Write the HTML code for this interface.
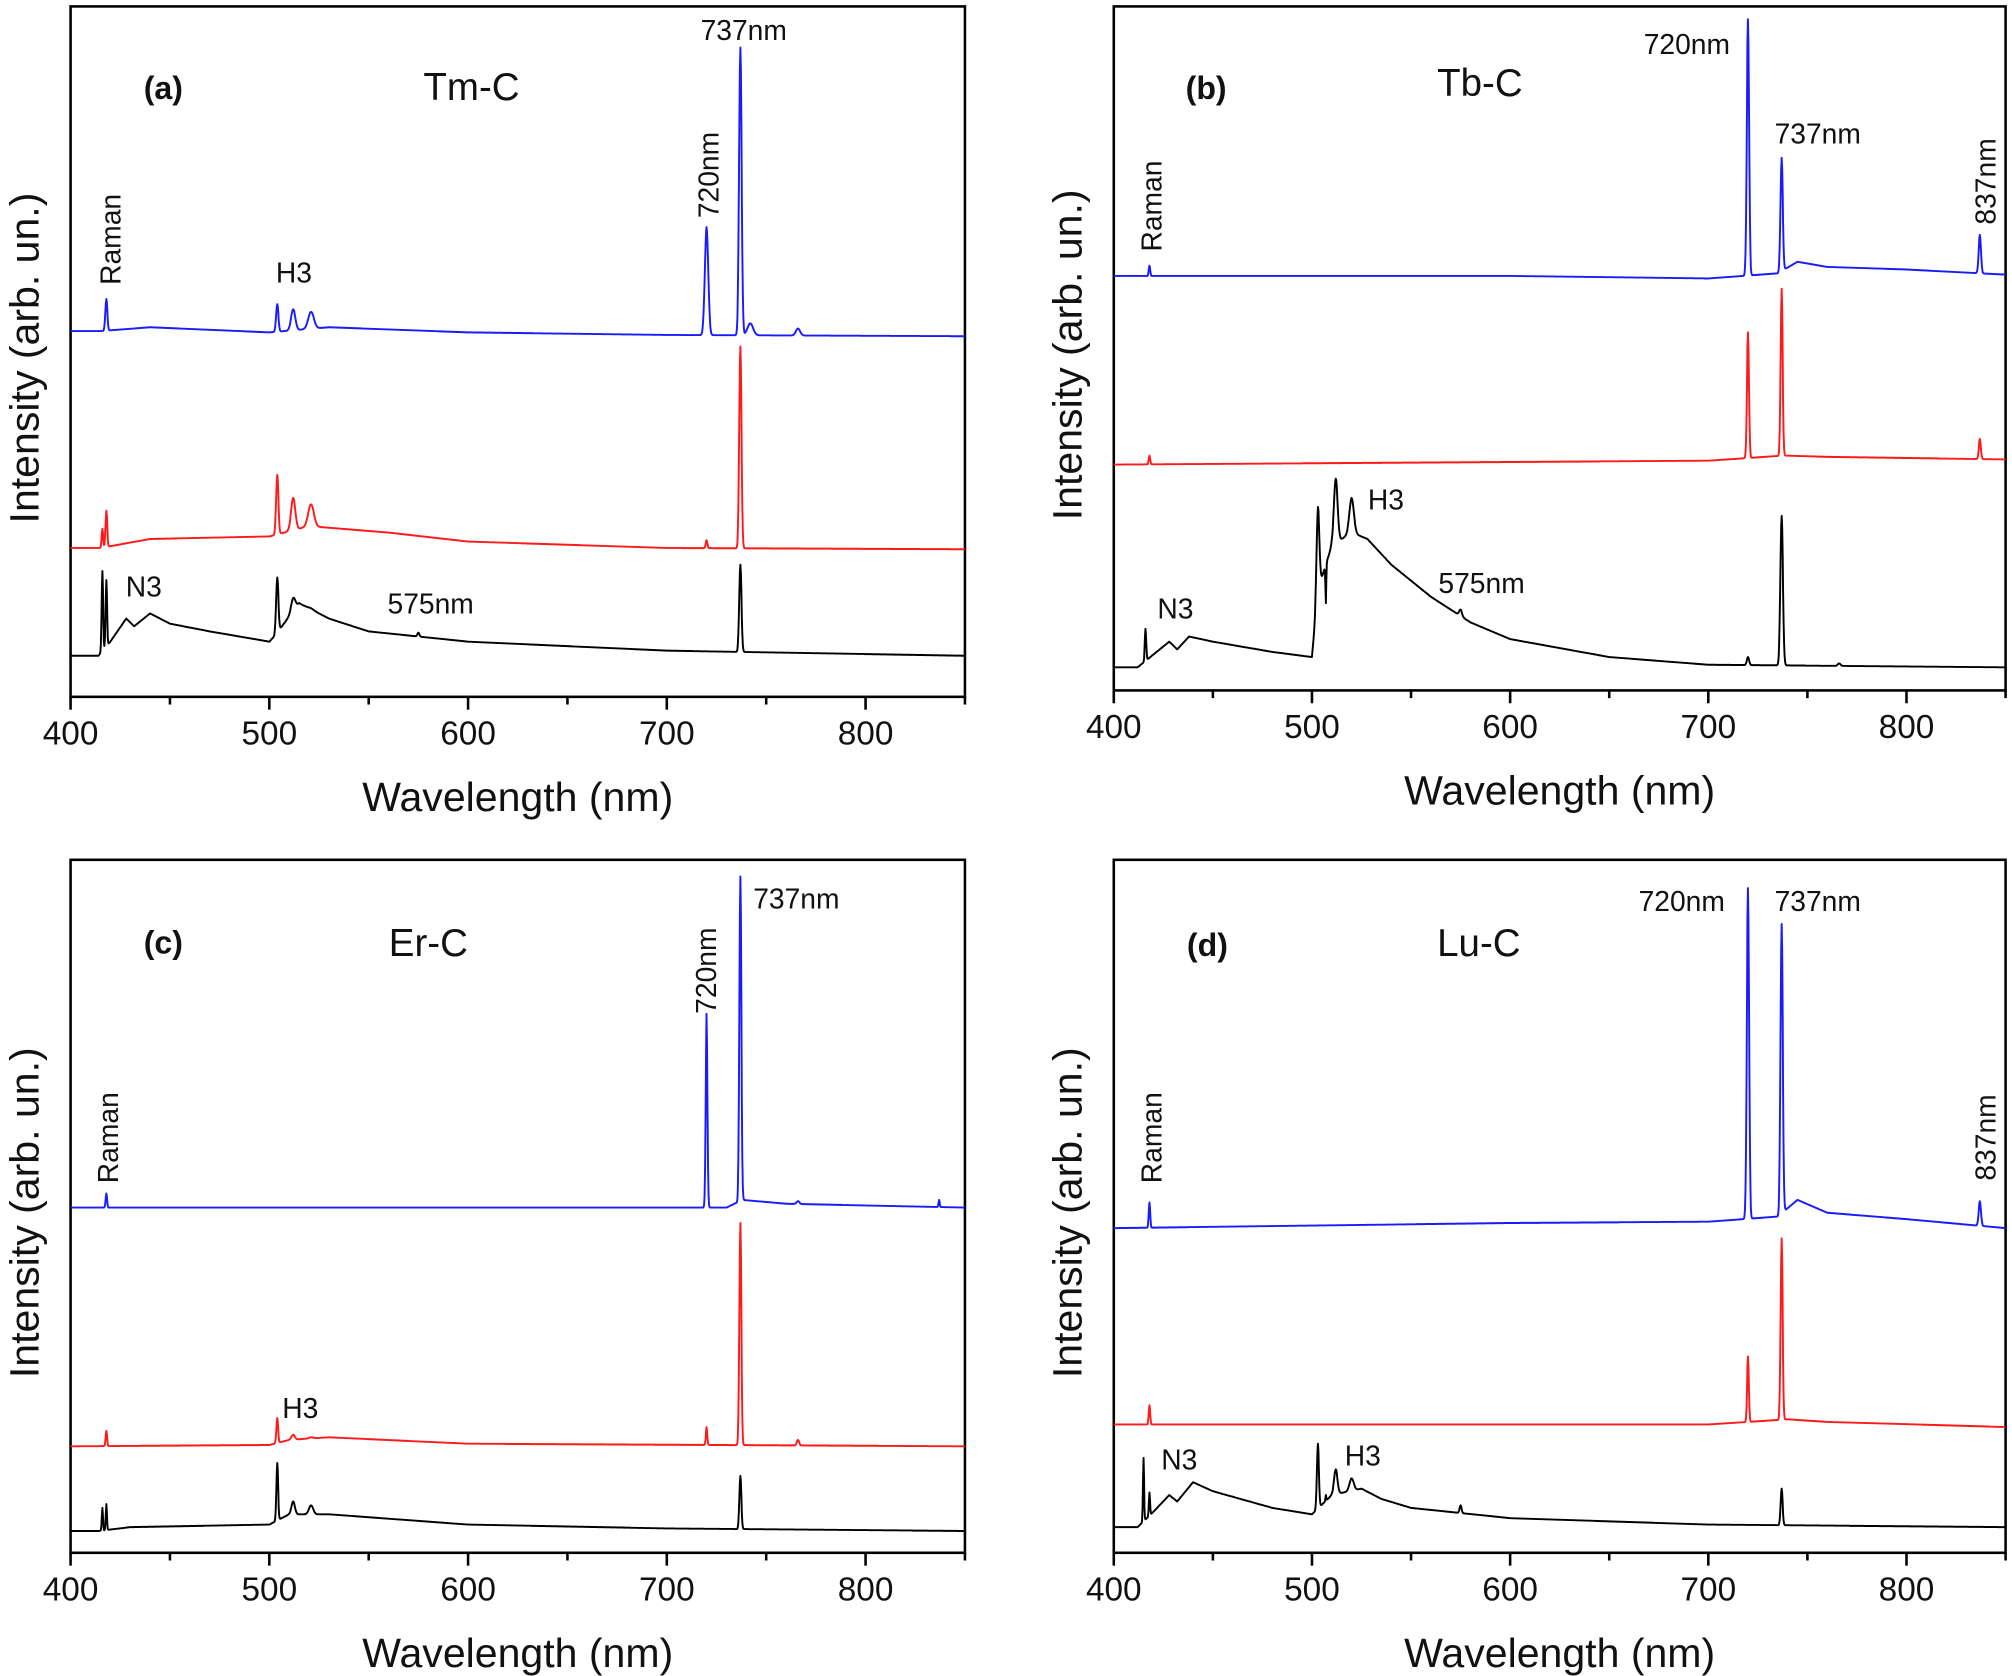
<!DOCTYPE html>
<html><head><meta charset="utf-8"><style>
html,body{margin:0;padding:0;background:#fff;}
svg{display:block;}
text{font-family:"Liberation Sans",Arial,sans-serif;fill:#111;}
</style></head><body>
<svg id="s" xmlns="http://www.w3.org/2000/svg" width="2012" height="1676" viewBox="0 0 1568 1306" preserveAspectRatio="none">
<rect width="1568" height="1306" fill="#fff"/>
<g id="g"></g>
<text x="112" y="77" font-size="25" font-weight="bold">(a)</text>
<text x="330" y="78" font-size="30">Tm-C</text>
<text x="546" y="31" font-size="22">737nm</text>
<text transform="translate(560,170) rotate(-90)" font-size="22">720nm</text>
<text transform="translate(94,222) rotate(-90)" font-size="22">Raman</text>
<text x="215" y="220" font-size="22">H3</text>
<text x="98" y="465" font-size="22">N3</text>
<text x="302" y="478" font-size="22">575nm</text>
<text x="924" y="77" font-size="25" font-weight="bold">(b)</text>
<text x="1120" y="75" font-size="30">Tb-C</text>
<text x="1281" y="42" font-size="22">720nm</text>
<text x="1383" y="112" font-size="22">737nm</text>
<text transform="translate(1555,175) rotate(-90)" font-size="22">837nm</text>
<text transform="translate(905,196) rotate(-90)" font-size="22">Raman</text>
<text x="1066" y="397" font-size="22">H3</text>
<text x="902" y="482" font-size="22">N3</text>
<text x="1121" y="462" font-size="22">575nm</text>
<text x="112" y="743" font-size="25" font-weight="bold">(c)</text>
<text x="303" y="745" font-size="30">Er-C</text>
<text x="587" y="708" font-size="22">737nm</text>
<text transform="translate(558,790) rotate(-90)" font-size="22">720nm</text>
<text transform="translate(92,922) rotate(-90)" font-size="22">Raman</text>
<text x="220" y="1105" font-size="22">H3</text>
<text x="925" y="745" font-size="25" font-weight="bold">(d)</text>
<text x="1120" y="745" font-size="30">Lu-C</text>
<text x="1277" y="710" font-size="22">720nm</text>
<text x="1383" y="710" font-size="22">737nm</text>
<text transform="translate(1555,920) rotate(-90)" font-size="22">837nm</text>
<text transform="translate(905,922) rotate(-90)" font-size="22">Raman</text>
<text x="1048" y="1142" font-size="22">H3</text>
<text x="905" y="1145" font-size="22">N3</text>
</svg>
<script>
var NS="http://www.w3.org/2000/svg",G=document.getElementById("g");
function el(t,a){var e=document.createElementNS(NS,t);for(var k in a)e.setAttribute(k,a[k]);G.appendChild(e);return e;}
function panel(P){
 var x0=P.l,x1=P.r,t=P.t,b=P.b,sc=(x1-x0)/450;
 el("rect",{x:x0,y:t,width:x1-x0,height:b-t,fill:"none",stroke:"#000","stroke-width":2});
 for(var w=400;w<=850;w+=50){var x=x0+(w-400)*sc,maj=(w%100==0);
  el("line",{x1:x,y1:b,x2:x,y2:b+(maj?10:6),stroke:"#000","stroke-width":2});
  if(maj){var tx=el("text",{x:x,y:b+37,"font-size":26,"text-anchor":"middle"});tx.textContent=w;}}
 var tt=el("text",{x:(x0+x1)/2,y:b+89,"font-size":32,"text-anchor":"middle"});tt.textContent="Wavelength (nm)";
 var yt=el("text",{transform:"translate("+(x0-25)+","+((t+b)/2+5)+") rotate(-90)","font-size":32,"text-anchor":"middle"});yt.textContent="Intensity (arb. un.)";
 P.s.forEach(function(S){
  function base(l){var B=S.b;if(l<=B[0][0])return B[0][1];for(var i=1;i<B.length;i++){if(l<=B[i][0]){var f=(l-B[i-1][0])/(B[i][0]-B[i-1][0]);return B[i-1][1]+f*(B[i][1]-B[i-1][1]);}}return B[B.length-1][1];}
  var pk=S.p.map(function(q){return [q[0],base(q[0])-q[1],q[2]||0.8];});
  var d="";
  for(var l=400;l<=850;l+=0.25){var y=base(l);pk.forEach(function(q){var z=(l-q[0])/q[2];if(Math.abs(z)<5)y-=q[1]*Math.exp(-z*z);});
   d+=(d?"L":"M")+(x0+(l-400)*sc).toFixed(1)+","+y.toFixed(1);}
  el("path",{d:d,fill:"none",stroke:S.c,"stroke-width":1.5,"stroke-linejoin":"round"});
 });
}
var BL="#1a1aff",RD="#ff1a1a",BK="#000";
panel({l:55,r:752,t:5,b:543,s:[
 {c:BL,b:[[400,258],[415,258],[440,255],[500,259],[530,255],[600,259],[700,261],[850,262]],p:[[418,233,0.7],[504,237,0.8],[512,241,1.5],[521,243,2],[720,177,1.2],[737,37,0.9],[742,252,2],[766,256,1.5]]},
 {c:RD,b:[[400,427],[415,427],[440,420],[500,418],[520,410],[560,415],[600,422],[700,427],[850,428]],p:[[416,412,0.5],[418,398,0.6],[504,370,0.8],[512,388,1.5],[521,393,2],[720,421,0.6],[737,270,0.8]]},
 {c:BK,b:[[400,511],[414,511],[420,500],[428,482],[432,488],[440,478],[450,486],[470,492],[500,500],[503,495],[515,470],[530,482],[550,492],[600,500],[700,507],[850,511]],p:[[416,445,0.5],[418,452,0.5],[504,450,0.8],[512,466,1.5],[521,474,2],[575,493,0.7],[737,440,0.8]]}
]});
panel({l:868,r:1563,t:5,b:538,s:[
 {c:BL,b:[[400,215],[600,215],[700,217],[735,213],[745,204],[760,208],[800,210],[850,214]],p:[[418,207,0.5],[720,15,0.8],[737,123,0.8],[837,183,0.8]]},
 {c:RD,b:[[400,362],[500,361],[700,359],[738,355],[760,356],[850,358]],p:[[418,355,0.5],[720,259,0.7],[737,225,0.7],[837,342,0.7]]},
 {c:BK,b:[[400,520],[412,520],[420,510],[428,500],[432,506],[438,496],[450,500],[480,508],[500,512],[503,460],[510,425],[520,415],[528,420],[540,440],[560,465],[580,485],[600,498],[650,512],[700,518],[850,520]],p:[[416,490,0.5],[503,395,1],[507,470,0.3],[512,373,1.3],[520,388,1.6],[575,475,1],[720,512,0.8],[737,402,0.9],[766,517,1]]}
]});
panel({l:55,r:752,t:670,b:1210,s:[
 {c:BL,b:[[400,941],[730,941],[738,935],[760,938],[850,941]],p:[[418,930,0.5],[720,790,0.6],[737,683,0.7],[766,936,1],[837,935,0.4]]},
 {c:RD,b:[[400,1127],[500,1126],[510,1122],[530,1120],[600,1125],[850,1127]],p:[[418,1115,0.5],[504,1105,0.6],[512,1118,1.2],[521,1120,1.5],[720,1112,0.5],[737,953,0.7],[766,1122,0.8]]},
 {c:BK,b:[[400,1193],[414,1193],[430,1190],[500,1188],[510,1180],[530,1180],[600,1188],[700,1191],[850,1193]],p:[[416,1175,0.4],[418,1172,0.4],[504,1140,0.6],[512,1170,1.2],[521,1173,1.5],[737,1150,0.7]]}
]});
panel({l:868,r:1563,t:670,b:1210,s:[
 {c:BL,b:[[400,957],[500,955],[600,953],[700,952],[735,948],[745,935],[760,945],[800,950],[850,957]],p:[[418,937,0.5],[720,692,0.8],[737,720,0.8],[837,936,0.8]]},
 {c:RD,b:[[400,1110],[700,1110],[740,1106],[760,1108],[850,1112]],p:[[418,1095,0.5],[720,1057,0.6],[737,965,0.7]]},
 {c:BK,b:[[400,1190],[412,1190],[420,1178],[428,1165],[432,1170],[440,1155],[450,1162],[480,1175],[500,1180],[510,1165],[525,1160],[535,1168],[550,1175],[600,1183],[700,1188],[850,1190]],p:[[415,1136,0.4],[418,1163,0.4],[503,1125,0.7],[507,1165,0.3],[512,1145,1.2],[520,1152,1.5],[575,1173,0.7],[737,1160,0.7]]}
]});
</script>
</body></html>
